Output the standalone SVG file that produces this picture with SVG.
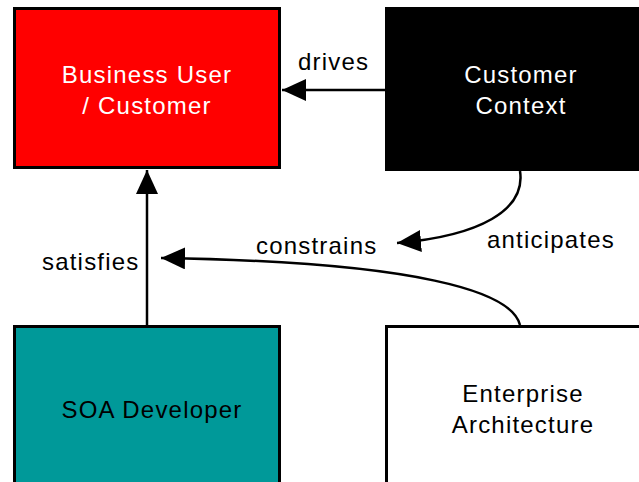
<svg xmlns="http://www.w3.org/2000/svg" width="639" height="482" viewBox="0 0 639 482">
  <style>
    .box { stroke: #000; stroke-width: 3; }
    .lbl { font-family: "Liberation Sans", Arial, sans-serif; font-size: 24px; letter-spacing: 1.2px; }
    .in { text-anchor: middle; }
    .link { fill: none; stroke: #000; stroke-width: 2.5; }
  </style>
  <defs>
    <marker id="head" markerUnits="userSpaceOnUse" markerWidth="26" markerHeight="24" refX="24" refY="11" orient="auto">
      <path d="M0,0 L24,11 L0,22 Z" fill="#000"/>
    </marker>
  </defs>

  <rect width="639" height="482" fill="#fff"/>

  <g id="business-user">
    <rect class="box" x="14.5" y="8.5" width="265" height="159" fill="#ff0000"/>
    <text class="lbl in" x="147" y="83" fill="#fff">Business User</text>
    <text class="lbl in" x="147" y="114" fill="#fff">/ Customer</text>
  </g>

  <g id="customer-context">
    <rect class="box" x="386.5" y="8.5" width="260" height="161" fill="#000"/>
    <text class="lbl in" x="521" y="83" fill="#fff">Customer</text>
    <text class="lbl in" x="521" y="114" fill="#fff">Context</text>
  </g>

  <g id="soa-developer">
    <rect class="box" x="14.5" y="326.5" width="265" height="170" fill="#009999"/>
    <text class="lbl in" x="152" y="418" fill="#000">SOA Developer</text>
  </g>

  <g id="enterprise-architecture">
    <rect class="box" x="386.5" y="326.5" width="260" height="170" fill="#fff"/>
    <text class="lbl in" x="523" y="402" fill="#000">Enterprise</text>
    <text class="lbl in" x="523" y="433" fill="#000">Architecture</text>
  </g>

  <g id="connectors">
    <line class="link" x1="385" y1="90" x2="282" y2="90" marker-end="url(#head)"/>
    <text class="lbl" x="298" y="70">drives</text>

    <line class="link" x1="147" y1="325" x2="147" y2="170" marker-end="url(#head)"/>
    <text class="lbl" x="42" y="270">satisfies</text>

    <path class="link" d="M520,325 C512,292 420,262 161,258" marker-end="url(#head)"/>
    <text class="lbl" x="256" y="254">constrains</text>

    <path class="link" d="M520,171 C526,210 480,236 397,243" marker-end="url(#head)"/>
    <text class="lbl" x="487" y="248">anticipates</text>
  </g>
</svg>
